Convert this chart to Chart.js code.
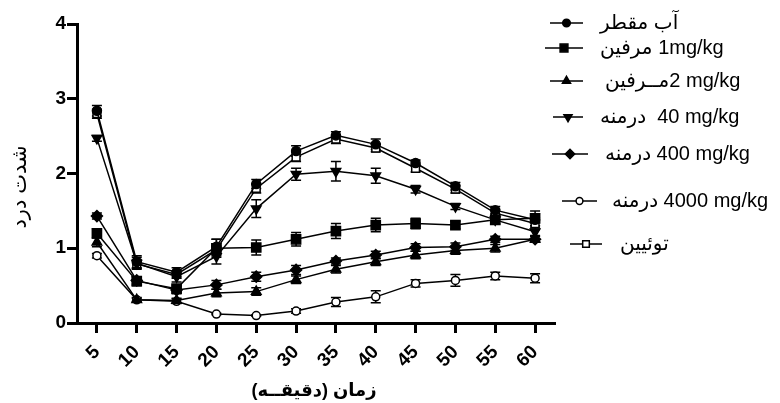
<!DOCTYPE html>
<html><head><meta charset="utf-8">
<script src="https://cdn.jsdelivr.net/npm/chart.js@4"></script>
<style>html,body{margin:0;padding:0;background:#fff}</style>
</head><body>
<canvas id="c" width="780" height="403"></canvas>
<script>
// ---- data ----
const xLabels = ['5','10','15','20','25','30','35','40','45','50','55','60'];
const water      = [2.84,0.82,0.68,1.02,1.86,2.30,2.51,2.39,2.14,1.83,1.51,1.38];
const waterErr   = [0.07,0.08,0.06,0.10,0.06,0.07,0.05,0.07,0.04,0.05,0.05,0.08];
const morphine1    = [1.20,0.56,0.46,1.00,1.01,1.12,1.23,1.31,1.33,1.31,1.38,1.40];
const morphine1Err = [0.06,0.06,0.05,0.12,0.10,0.09,0.10,0.09,0.07,0.05,0.06,0.10];
const morphine2    = [1.08,0.31,0.30,0.40,0.42,0.58,0.72,0.82,0.91,0.97,1.00,1.12];
const morphine2Err = [0.06,0.03,0.03,0.05,0.05,0.05,0.05,0.05,0.05,0.05,0.05,0.04];
const ext40      = [2.47,0.80,0.62,0.89,1.53,1.99,2.03,1.97,1.79,1.56,1.38,1.22];
const ext40Err   = [0.04,0.08,0.07,0.10,0.12,0.08,0.13,0.10,0.05,0.04,0.05,0.05];
const ext400     = [1.43,0.57,0.44,0.51,0.62,0.71,0.83,0.91,1.01,1.02,1.12,1.12];
const ext400Err  = [0.04,0.05,0.05,0.06,0.06,0.06,0.04,0.05,0.05,0.05,0.04,0.04];
const ext4000    = [0.90,0.31,0.29,0.12,0.10,0.16,0.28,0.35,0.53,0.57,0.63,0.60];
const ext4000Err = [0.03,0.02,0.03,0.01,0.01,0.03,0.06,0.08,0.05,0.08,0.05,0.06];
const tween      = [2.80,0.79,0.65,0.98,1.80,2.22,2.46,2.34,2.07,1.79,1.47,1.33];
const tweenErr   = [0.06,0.06,0.05,0.08,0.06,0.06,0.06,0.05,0.05,0.05,0.05,0.08];
const yTicks = [0,1,2,3,4];
const legendLabels = [
  'آب مقطر',
  'مرفین \u200E1mg/kg',
  'مــرفین\u200E2 mg/kg',
  'درمنه  \u200E40 mg/kg',
  'درمنه \u200E400 mg/kg',
  'درمنه \u200E4000 mg/kg',
  'توئیین'
];
const xTitle = 'زمان (دقیقــه)';
const yTitle = 'شدت درد';

// ---- styling ----
const F = "'Liberation Sans', Arial, 'DejaVu Sans', sans-serif";
const series = [
  {data: water,     err: waterErr,     style: 'circle',   rot: 0,   r: 4.5, fill: '#000'},
  {data: morphine1, err: morphine1Err, style: 'rect',     rot: 0,   r: 6.5, fill: '#000'},
  {data: morphine2, err: morphine2Err, style: 'triangle', rot: 0,   r: 5.5, fill: '#000'},
  {data: ext40,     err: ext40Err,     style: 'triangle', rot: 180, r: 5.5, fill: '#000'},
  {data: ext400,    err: ext400Err,    style: 'rectRot',  rot: 0,   r: 5.5, fill: '#000'},
  {data: ext4000,   err: ext4000Err,   style: 'circle',   rot: 0,   r: 4,   fill: '#fff'},
  {data: tween,     err: tweenErr,     style: 'rect',     rot: 0,   r: 5.5, fill: '#fff'}
];

const datasets = series.map((s, i) => ({
  label: legendLabels[i],
  data: s.data,
  borderColor: '#000',
  borderWidth: 1.5,
  tension: 0,
  fill: false,
  pointStyle: s.style,
  pointRotation: s.rot,
  pointRadius: s.r,
  pointBackgroundColor: s.fill,
  pointBorderColor: '#000',
  pointBorderWidth: 1.5
}));

const errorBars = {
  id: 'errorBars',
  beforeDatasetsDraw(chart) {
    const {ctx} = chart;
    const ys = chart.scales.y;
    ctx.save();
    ctx.strokeStyle = '#000';
    ctx.lineWidth = 1.5;
    series.forEach((s, di) => {
      const meta = chart.getDatasetMeta(di);
      meta.data.forEach((pt, i) => {
        const e = s.err[i];
        const y1 = ys.getPixelForValue(s.data[i] + e);
        const y2 = ys.getPixelForValue(s.data[i] - e);
        ctx.beginPath();
        ctx.moveTo(pt.x, y1); ctx.lineTo(pt.x, y2);
        ctx.moveTo(pt.x - 5, y1); ctx.lineTo(pt.x + 5, y1);
        ctx.moveTo(pt.x - 5, y2); ctx.lineTo(pt.x + 5, y2);
        ctx.stroke();
      });
    });
    ctx.restore();
  }
};

const legendRows = [
  {x1: 550, x2: 583, y: 23,  tx: 600},
  {x1: 545, x2: 583, y: 48,  tx: 600},
  {x1: 550, x2: 583, y: 81,  tx: 605},
  {x1: 553, x2: 583, y: 117, tx: 600},
  {x1: 552, x2: 588, y: 154, tx: 605},
  {x1: 562, x2: 597, y: 201, tx: 612},
  {x1: 570, x2: 602, y: 244, tx: 620}
];

const extras = {
  id: 'extras',
  afterDraw(chart) {
    const {ctx} = chart;
    ctx.save();
    // legend
    legendRows.forEach((r, i) => {
      const s = series[i];
      ctx.strokeStyle = '#000';
      ctx.lineWidth = 1.5;
      ctx.beginPath(); ctx.moveTo(r.x1, r.y); ctx.lineTo(r.x2, r.y); ctx.stroke();
      ctx.fillStyle = s.fill;
      Chart.helpers.drawPoint(ctx, {pointStyle: s.style, rotation: s.rot, radius: s.r * 0.85, borderWidth: 1.5}, (r.x1 + r.x2) / 2, r.y);
      ctx.fillStyle = '#000';
      ctx.font = '20px ' + F;
      ctx.textAlign = 'left';
      ctx.textBaseline = 'middle';
      ctx.direction = 'ltr';
      ctx.fillText(legendLabels[i], r.tx, r.y);
    });
    // axis titles
    ctx.fillStyle = '#000';
    ctx.direction = 'rtl';
    ctx.textAlign = 'center';
    ctx.textBaseline = 'middle';
    ctx.font = 'bold 18px ' + F;
    ctx.fillText(xTitle, 314, 391);
    ctx.translate(20, 187);
    ctx.rotate(-Math.PI / 2);
    ctx.font = '21px ' + F;
    ctx.fillText(yTitle, 0, 0);
    ctx.restore();
  }
};

new Chart(document.getElementById('c'), {
  type: 'line',
  data: {labels: xLabels, datasets},
  options: {
    responsive: false,
    animation: false,
    devicePixelRatio: 1,
    layout: {padding: {top: 24, right: 225, left: 0, bottom: 0}},
    plugins: {legend: {display: false}, tooltip: {enabled: false}},
    scales: {
      x: {
        type: 'category',
        offset: true,
        grid: {offset: false, drawOnChartArea: false, drawTicks: true, tickLength: 10, tickWidth: 3, tickColor: '#000'},
        border: {display: true, width: 3, color: '#000'},
        ticks: {color: '#000', font: {family: F, size: 19, weight: 'bold'}, maxRotation: 45, minRotation: 45, padding: 8, autoSkip: false},
        afterFit(s) { s.height = 80; }
      },
      y: {
        min: 0, max: 4,
        afterBuildTicks(s) { s.ticks = yTicks.map(v => ({value: v})); },
        grid: {drawOnChartArea: false, drawTicks: true, tickLength: 10, tickWidth: 3, tickColor: '#000'},
        border: {display: true, width: 3, color: '#000'},
        ticks: {color: '#000', font: {family: F, size: 19, weight: 'bold'}, padding: 1},
        afterFit(s) { s.width = 77; }
      }
    }
  },
  plugins: [errorBars, extras]
});
</script>
</body></html>
